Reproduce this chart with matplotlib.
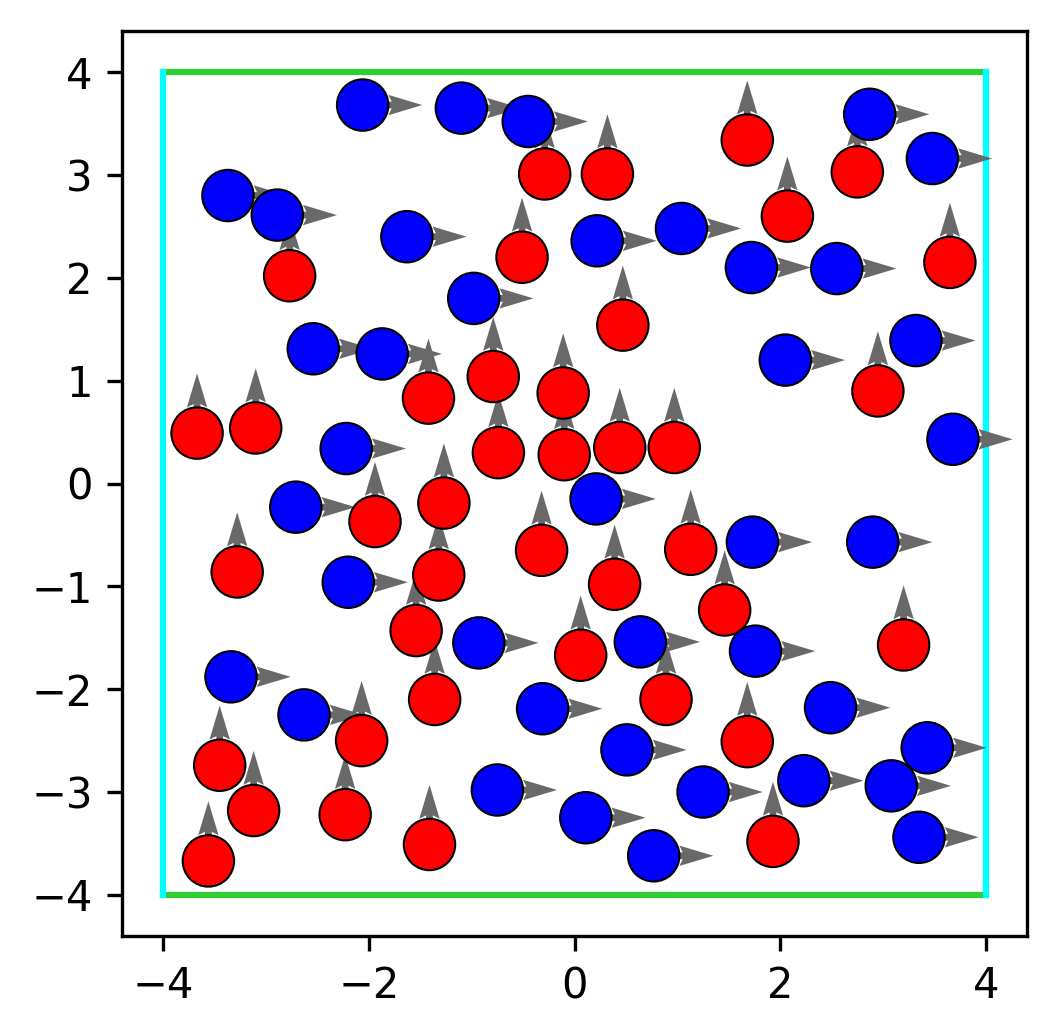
import matplotlib
matplotlib.use('Agg')
import matplotlib.pyplot as plt
import numpy as np

# particle positions
red_x = [-0.29, -2.77, -0.51, -1.42, -0.79, -0.11, -3.67, -3.10, -0.74, -0.10,
         0.32, 1.68, 2.75, 2.07, 3.65, 0.47, 2.95, 0.44, 0.97, -1.94,
         -1.27, -0.32, -3.28, -1.32, -1.54, 0.06, -1.36, -2.07, -3.45, -3.12,
         -2.23, -3.56, -1.41, 1.13, 0.39, 1.46, 3.20, 0.89, 1.68, 1.93]
red_y = [3.01, 2.02, 2.20, 0.83, 1.04, 0.88, 0.49, 0.54, 0.30, 0.28,
         3.01, 3.34, 3.03, 2.60, 2.15, 1.54, 0.90, 0.35, 0.35, -0.37,
         -0.19, -0.65, -0.86, -0.89, -1.43, -1.67, -2.10, -2.50, -2.74, -3.18,
         -3.22, -3.67, -3.51, -0.64, -0.98, -1.23, -1.57, -2.10, -2.51, -3.48]
blue_x = [-2.06, -1.10, -0.45, -3.37, -2.89, -1.63, 0.22, -0.98, -2.54, -1.87,
          -2.22, 2.87, 3.48, 1.04, 1.72, 2.55, 2.05, 3.32, 3.68, 0.21,
          -2.71, -2.20, -0.93, -0.31, -3.34, -2.63, -0.75, 0.11, 1.73, 2.90,
          0.64, 1.76, 2.49, 0.51, 3.43, 1.25, 2.23, 3.08, 0.77, 3.35]
blue_y = [3.68, 3.65, 3.52, 2.80, 2.61, 2.40, 2.36, 1.80, 1.31, 1.26,
          0.34, 3.59, 3.16, 2.48, 2.10, 2.09, 1.20, 1.39, 0.43, -0.15,
          -0.23, -0.96, -1.55, -2.19, -1.88, -2.25, -2.98, -3.25, -0.57, -0.57,
          -1.54, -1.63, -2.18, -2.59, -2.57, -3.00, -2.89, -2.94, -3.62, -3.44]

box = 4.0       # wall half-size
radius = 0.25   # particle radius
speed = 0.58    # arrow length

fig = plt.figure(figsize=(1056 / 300, 1035 / 300), dpi=300)
ax = fig.add_axes([122 / 1056, 99 / 1035, 905 / 1056, 905 / 1035])

# walls
ax.plot([-box, box], [box, box], color='limegreen', lw=1.5)
ax.plot([-box, box], [-box, -box], color='limegreen', lw=1.5)
ax.plot([-box, -box], [-box, box], color='cyan', lw=1.5)
ax.plot([box, box], [-box, box], color='cyan', lw=1.5)

# velocities: red move up, blue move right
ax.quiver(red_x, red_y, np.zeros(len(red_x)), np.full(len(red_x), speed),
          color='dimgray', angles='xy', scale_units='xy', scale=1,
          width=0.0075, zorder=2)
ax.quiver(blue_x, blue_y, np.full(len(blue_x), speed), np.zeros(len(blue_x)),
          color='dimgray', angles='xy', scale_units='xy', scale=1,
          width=0.0075, zorder=2)

for x, y in zip(red_x, red_y):
    ax.add_patch(plt.Circle((x, y), radius, facecolor='red', edgecolor='black',
                            lw=0.5, zorder=3))
for x, y in zip(blue_x, blue_y):
    ax.add_patch(plt.Circle((x, y), radius, facecolor='blue', edgecolor='black',
                            lw=0.5, zorder=3))

ax.set_xlim(-4.4, 4.4)
ax.set_ylim(-4.4, 4.4)
ax.set_xticks([-4, -2, 0, 2, 4])
ax.set_yticks([-4, -3, -2, -1, 0, 1, 2, 3, 4])

fig.savefig('out.png', dpi=300)
